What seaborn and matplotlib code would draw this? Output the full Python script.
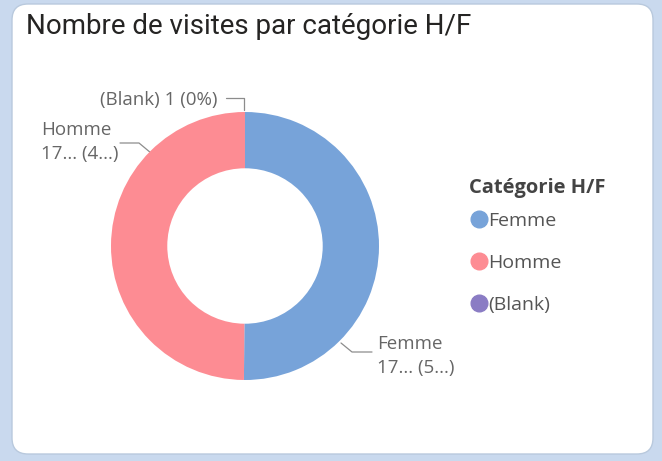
import matplotlib
matplotlib.use("Agg")
import matplotlib.pyplot as plt
from matplotlib.patches import FancyBboxPatch
from matplotlib.lines import Line2D
import seaborn as sns

# -----------------------------
# Data
# -----------------------------

CATEGORIES = ["Femme", "Homme", "(Blank)"]
VISITS = [17520, 17430, 1]
COLORS = ["#77a3d9", "#fd8c93", "#8a7cc4"]

TITLE = "Nombre de visites par catégorie H/F"
LEGEND_TITLE = "Catégorie H/F"

sns.set_theme(style="white")
plt.rcParams["font.family"] = ["Open Sans", "DejaVu Sans"]


def short_label(cat, value, total):
    """Power BI style truncated data label."""
    pct = int(100 * value / total)
    if value < 100:
        return f"{cat} {value} ({pct}%)"
    return f"{cat}\n{str(value)[:2]}... ({str(pct)[:1]}...)"


fig = plt.figure(figsize=(6.62, 4.61), dpi=100)
fig.patch.set_facecolor("#c9d9ee")

# card background
bg = fig.add_axes([0, 0, 1, 1])
bg.set_xlim(0, 662)
bg.set_ylim(461, 0)
bg.axis("off")
bg.add_patch(FancyBboxPatch((12, 4), 641, 450,
                            boxstyle="round,pad=0,rounding_size=16",
                            facecolor="white", edgecolor="#b9c9dd", linewidth=1.0))
bg.text(26, 27, TITLE, fontsize=20, color="#252423", va="center", ha="left",
        family=["Roboto", "DejaVu Sans"])

# donut
ax = fig.add_axes([111 / 662, (461 - 380) / 461, 268 / 662, 268 / 461])
ax.pie(VISITS, colors=COLORS, startangle=90, counterclock=False, radius=1,
       wedgeprops=dict(width=0.42, linewidth=0))
ax.set_xlim(-1, 1)
ax.set_ylim(-1, 1)
ax.axis("off")

total = sum(VISITS)
lab_kw = dict(fontsize=13.5, color="#666666", linespacing=1.45)
line_kw = dict(color="#8c8c8c", linewidth=0.9)

# data labels with leader lines (pixel coords on background axes)
bg.text(218, 100, short_label(CATEGORIES[2], VISITS[2], total), ha="right", va="center", **lab_kw)
bg.plot([226, 244, 244], [98, 98, 110], **line_kw)

bg.text(41, 142, short_label(CATEGORIES[1], VISITS[1], total), ha="left", va="center", **lab_kw)
bg.plot([120, 139, 151], [143, 143, 153], **line_kw)

bg.text(377, 356, short_label(CATEGORIES[0], VISITS[0], total), ha="left", va="center", **lab_kw)
bg.plot([341, 352, 372], [343, 352, 352], **line_kw)

# legend
handles = [Line2D([], [], marker="o", linestyle="", markersize=12, color=c) for c in COLORS]
leg = fig.legend(handles, CATEGORIES, title=LEGEND_TITLE, loc="upper left",
                 bbox_to_anchor=(461 / 662, 1 - 170 / 461), frameon=False,
                 fontsize=14, title_fontsize=14.5, labelspacing=1.25,
                 handletextpad=0.0, handlelength=1.0, borderaxespad=0)
leg.get_title().set_fontweight("bold")
leg.get_title().set_color("#444444")
leg._legend_box.align = "left"
leg._legend_box.sep = 10
for t in leg.get_texts():
    t.set_color("#555555")

fig.savefig("out.png", dpi=100)
